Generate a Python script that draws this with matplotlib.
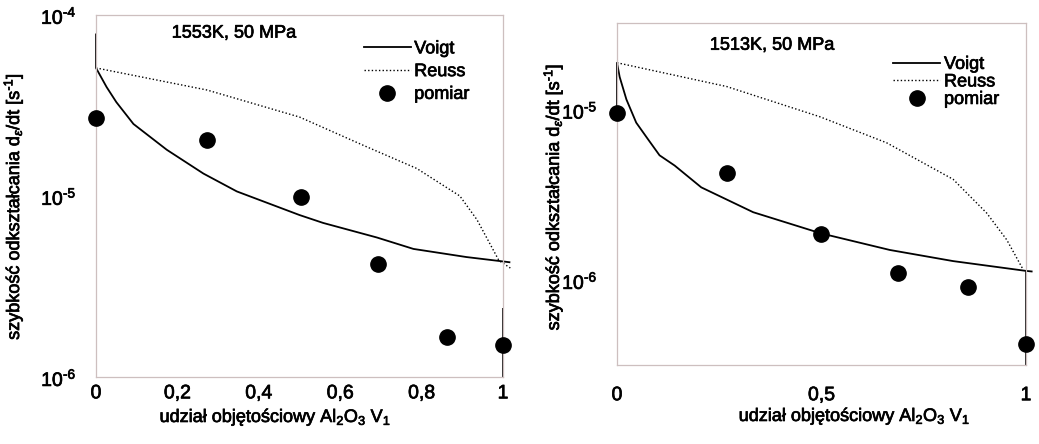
import numpy as np
import matplotlib
matplotlib.use("Agg")
import matplotlib.pyplot as plt
import matplotlib.patheffects as pe
from matplotlib.lines import Line2D
from matplotlib.text import Text

plt.rcParams["font.family"] = ["Liberation Sans", "DejaVu Sans"]
plt.rcParams["mathtext.fontset"] = "custom"
plt.rcParams["mathtext.rm"] = "Liberation Sans"
plt.rcParams["mathtext.it"] = "Liberation Sans:italic"
plt.rcParams["mathtext.default"] = "regular"

# ---- 1553 K, 50 MPa ----
titles = ["1553K, 50 MPa", "1513K, 50 MPa"]

voigt_x_1553 = [0.0, 0.0, 0.026, 0.05, 0.092, 0.174, 0.264, 0.346, 0.50, 0.558, 0.69, 0.78, 0.91, 1.0, 1.018]
voigt_y_1553 = [7.9e-5, 5.1e-5, 4.0e-5, 3.3e-5, 2.5e-5, 1.8e-5, 1.33e-5, 1.06e-5, 7.85e-6, 7.1e-6, 5.9e-6,
                5.1e-6, 4.6e-6, 4.35e-6, 4.3e-6]
reuss_x_1553 = [0.0, 0.273, 0.5, 0.665, 0.788, 0.894, 0.936, 0.99, 1.018]
reuss_y_1553 = [5.1e-5, 3.85e-5, 2.73e-5, 1.87e-5, 1.42e-5, 1.0e-5, 7.4e-6, 4.4e-6, 4.0e-6]
meas_x_1553 = [0.0, 0.273, 0.504, 0.692, 0.862, 1.0]
meas_y_1553 = [2.7e-5, 2.04e-5, 9.9e-6, 4.2e-6, 1.66e-6, 1.51e-6]
bar_x_1553 = [1.0]
bar_lo_1553 = [1.0e-6]
bar_hi_1553 = [2.4e-6]

# ---- 1513 K, 50 MPa ----
voigt_x_1513 = [0.0, 0.0, 0.0065, 0.023, 0.047, 0.076, 0.104, 0.141, 0.206, 0.333, 0.498, 0.667, 0.822, 1.0, 1.016]
voigt_y_1513 = [9.6e-6, 1.89e-5, 1.56e-5, 1.15e-5, 8.4e-6, 6.7e-6, 5.4e-6, 4.7e-6, 3.5e-6, 2.5e-6, 1.88e-6,
                1.5e-6, 1.29e-6, 1.13e-6, 1.12e-6]
reuss_x_1513 = [0.0, 0.268, 0.496, 0.659, 0.822, 0.904, 0.953, 0.993]
reuss_y_1513 = [1.89e-5, 1.37e-5, 9.1e-6, 6.4e-6, 3.9e-6, 2.47e-6, 1.72e-6, 1.15e-6]
meas_x_1513 = [0.0, 0.268, 0.498, 0.688, 0.859, 1.0]
meas_y_1513 = [9.6e-6, 4.26e-6, 1.86e-6, 1.1e-6, 9.1e-7, 4.2e-7]
bar_x_1513 = [1.0]
bar_lo_1513 = [3.16e-7]
bar_hi_1513 = [1.13e-6]

xticks_1553 = [0, 0.2, 0.4, 0.6, 0.8, 1]
xticklabels_1553 = ["0", "0,2", "0,4", "0,6", "0,8", "1"]
xticks_1513 = [0, 0.5, 1]
xticklabels_1513 = ["0", "0,5", "1"]
yticks_1553 = [1e-6, 1e-5, 1e-4]
yticklabels_1553 = [r"$10^{\text{-}6}$", r"$10^{\text{-}5}$", r"$10^{\text{-}4}$"]
yticks_1513 = [1e-6, 1e-5]
yticklabels_1513 = [r"$10^{\text{-}6}$", r"$10^{\text{-}5}$"]
ylim_1553 = (1e-6, 1e-4)
ylim_1513 = (10 ** -6.5, 10 ** -4.49)

xlabel = r"udział objętościowy Al$_2$O$_3$ V$_1$"
ylabel = r"szybkość odkształcania d$_{\mathit{\varepsilon}}$/dt [s$^{\text{-}1}$]"
series_names = ["Voigt", "Reuss", "pomiar"]

fig = plt.figure(figsize=(10.39, 4.44), dpi=100)
ax1 = fig.add_axes([96 / 1039, 1 - 377 / 444, 407 / 1039, 362 / 444])
ax2 = fig.add_axes([617 / 1039, 1 - 365 / 444, 409 / 1039, 342 / 444])

frame_color = "#cdbfbf"


def draw(ax, vx, vy, rx, ry, mx, my, bx, blo, bhi, ylim, xt, xtl, yt, ytl, title,
         title_pos, legend_anchor, legend_spacing, xpad, xlabel_pos, ylabel_pos):
    ax.set_yscale("log")
    ax.plot(vx, vy, color="black", lw=1.3, solid_capstyle="butt", clip_on=False)
    ax.plot(rx, ry, color="black", lw=1.0, linestyle=(0, (1, 1.6)), clip_on=False)
    ax.vlines(bx, blo, bhi, color="black", lw=1.2, clip_on=False)
    ax.plot(mx, my, "o", color="black", ms=11, clip_on=False, zorder=5)
    ax.set_xlim(0, 1)
    ax.set_ylim(*ylim)
    ax.set_xticks(xt)
    ax.set_xticklabels(xtl)
    ax.set_yticks(yt)
    ax.set_yticklabels(ytl)
    ax.yaxis.set_minor_locator(matplotlib.ticker.NullLocator())
    ax.tick_params(axis="both", length=0, labelsize=14)
    ax.tick_params(axis="x", pad=xpad)
    ax.tick_params(axis="y", pad=14)
    for s in ax.spines.values():
        s.set_color(frame_color)
        s.set_linewidth(0.9)
    ax.set_xlabel(xlabel, fontsize=13)
    ax.xaxis.set_label_coords(*xlabel_pos)
    ax.set_ylabel(ylabel, fontsize=13)
    ax.yaxis.set_label_coords(*ylabel_pos)
    ax.text(title_pos[0], title_pos[1], title, transform=ax.transAxes,
            fontsize=13, ha="left", va="center")
    handles = [
        Line2D([], [], color="black", lw=1.3),
        Line2D([], [], color="black", lw=1.0, linestyle=(0, (1, 1.6))),
        Line2D([], [], color="black", marker="o", ms=11, linestyle="none"),
    ]
    ax.legend(handles, series_names, loc="upper right", bbox_to_anchor=legend_anchor,
              frameon=False, fontsize=13, handlelength=2.6, handletextpad=0.2,
              labelspacing=legend_spacing, borderaxespad=0)


draw(ax1, voigt_x_1553, voigt_y_1553, reuss_x_1553, reuss_y_1553, meas_x_1553, meas_y_1553,
     bar_x_1553, bar_lo_1553, bar_hi_1553, ylim_1553, xticks_1553, xticklabels_1553,
     yticks_1553, yticklabels_1553, titles[0], (0.186, 0.95), (0.935, 0.95), 0.32,
     6, (0.44, -0.083), (-0.174, 0.47))
draw(ax2, voigt_x_1513, voigt_y_1513, reuss_x_1513, reuss_y_1513, meas_x_1513, meas_y_1513,
     bar_x_1513, bar_lo_1513, bar_hi_1513, ylim_1513, xticks_1513, xticklabels_1513,
     yticks_1513, yticklabels_1513, titles[1], (0.227, 0.935), (0.952, 0.925), 0.03,
     16, (0.58, -0.12), (-0.127, 0.49))

# slightly heavier strokes on all lettering
for t in fig.findobj(Text):
    t.set_path_effects([pe.withStroke(linewidth=0.5, foreground="black")])

fig.savefig("out.png", dpi=100)
